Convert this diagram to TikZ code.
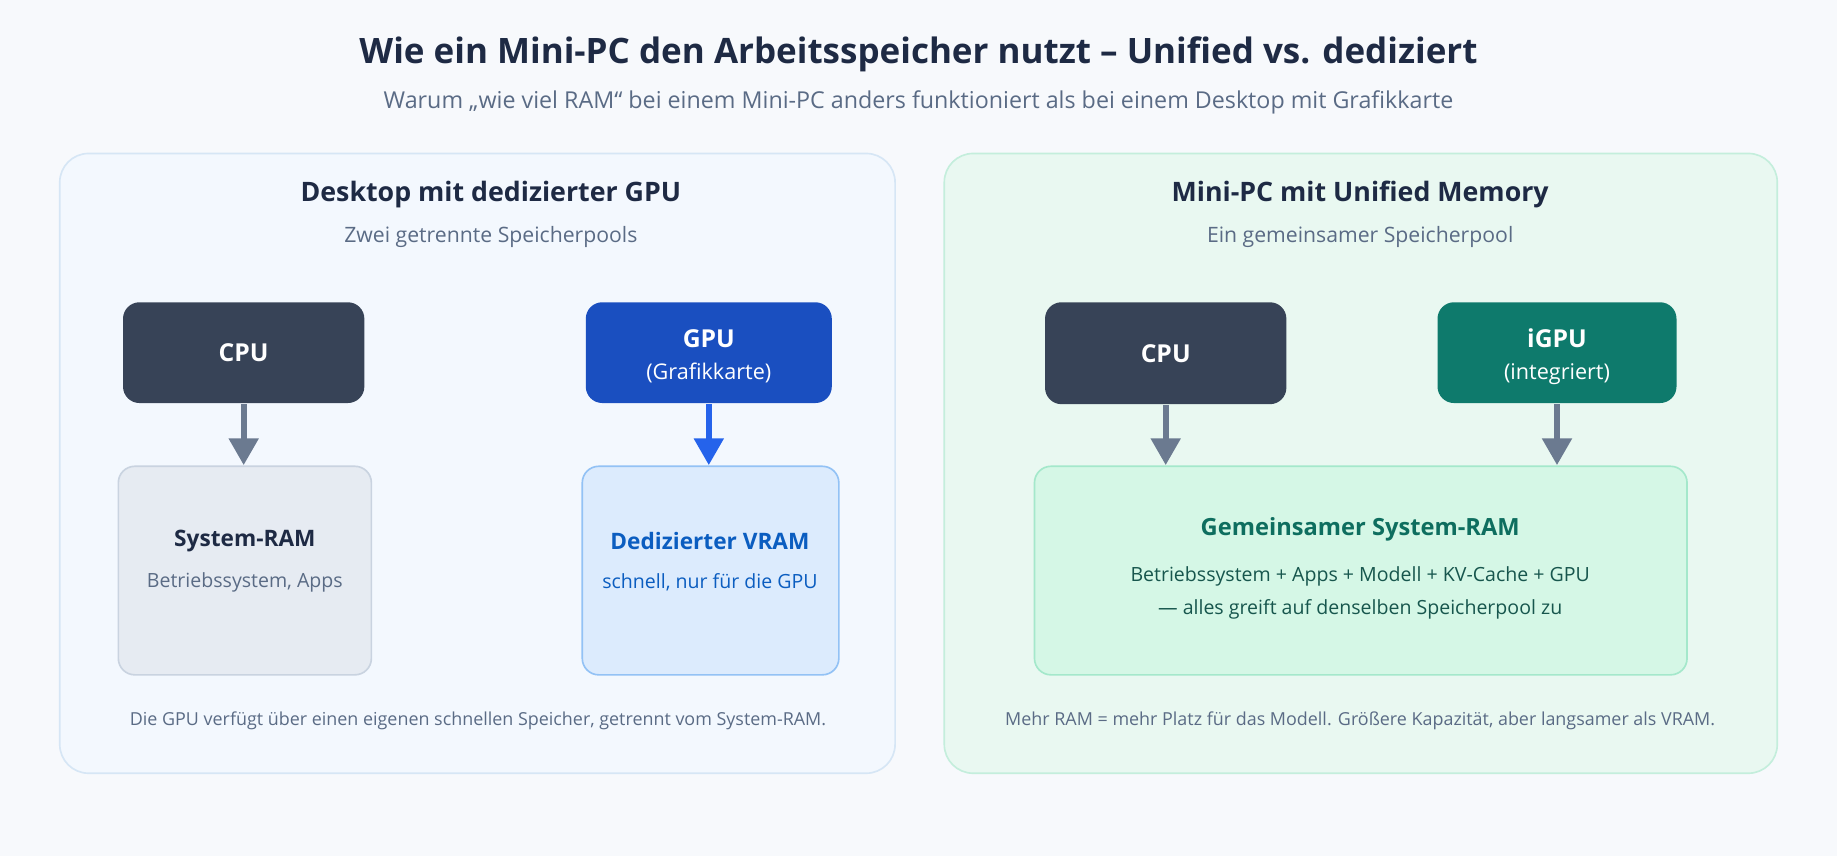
\documentclass[tikz,border=0pt]{standalone}
\usepackage{fontspec}
\setmainfont{Open Sans}
\usetikzlibrary{arrows.meta}

\definecolor{bgcol}{HTML}{F7F9FC}
\definecolor{titlecol}{HTML}{1E2A44}
\definecolor{subcol}{HTML}{5A6B85}
\definecolor{leftfill}{HTML}{F3F8FE}
\definecolor{leftline}{HTML}{D6E6F5}
\definecolor{rightfill}{HTML}{E9F8F1}
\definecolor{rightline}{HTML}{C4EEDC}
\definecolor{cpucol}{HTML}{374357}
\definecolor{gpucol}{HTML}{1A4FC0}
\definecolor{igpucol}{HTML}{0E7A6C}
\definecolor{arrgray}{HTML}{6B7A90}
\definecolor{arrblue}{HTML}{2563EB}
\definecolor{ramfill}{HTML}{E6EBF2}
\definecolor{ramline}{HTML}{C9D3E0}
\definecolor{vramfill}{HTML}{DCEBFD}
\definecolor{vramline}{HTML}{93C2F5}
\definecolor{vramtext}{HTML}{0B5DC0}
\definecolor{sharefill}{HTML}{D5F7E6}
\definecolor{shareline}{HTML}{A4E8CB}
\definecolor{sharetext}{HTML}{0E6E5F}
\definecolor{sharebody}{HTML}{17564D}

\tikzset{
  panel/.style={rounded corners=14, line width=0.8pt},
  chip/.style={rounded corners=8},
  mem/.style={rounded corners=8, line width=0.8pt},
  flow/.style={line width=2.8pt, -{Triangle[width=14pt,length=13pt]}},
  head/.style={font=\fontsize{13}{15}\selectfont\bfseries, text=titlecol},
  subhead/.style={font=\fontsize{10.3}{12}\selectfont, text=subcol},
  note/.style={font=\fontsize{8.7}{10}\selectfont, text=subcol}
}

\begin{document}
\begin{tikzpicture}[x=0.02cm, y=-0.02cm]
    \useasboundingbox (0,0) rectangle (1568,731);
    \fill[bgcol] (0,0) rectangle (1568,731);

    % Title
    \node[font=\fontsize{17}{20}\selectfont\bfseries, text=titlecol] (title) at (784,46) {Wie ein Mini-PC den Arbeitsspeicher nutzt – Unified vs. dediziert};
    \node[font=\fontsize{11.3}{14}\selectfont, text=subcol] (subtitle) at (784,87) {Warum „wie viel RAM“ bei einem Mini-PC anders funktioniert als bei einem Desktop mit Grafikkarte};

    % Left panel
    \draw[panel, fill=leftfill, draw=leftline] (51,131) rectangle (764,660);
    \node[head] (lhead) at (419,166) {Desktop mit dedizierter GPU};
    \node[subhead] (lsub) at (419,202) {Zwei getrennte Speicherpools};
    \fill[chip, cpucol] (105,258) rectangle (311,344);
    \node[text=white, font=\fontsize{12}{14}\selectfont\bfseries] (lcpu) at (208,301) {CPU};
    \fill[chip, gpucol] (500,258) rectangle (710,344);
    \node[text=white, font=\fontsize{12}{14}\selectfont\bfseries] (lgpu) at (605,289) {GPU};
    \node[text=white, font=\fontsize{10.5}{13}\selectfont] (lgpusub) at (605,318) {(Grafikkarte)};
    \draw[mem, fill=ramfill, draw=ramline] (101,398) rectangle (317,576);
    \node[font=\fontsize{11}{13}\selectfont\bfseries, text=titlecol] (sysram) at (209,462) {System-RAM};
    \node[font=\fontsize{9.5}{12}\selectfont, text=subcol] (sysramsub) at (209,497) {Betriebssystem, Apps};
    \draw[mem, fill=vramfill, draw=vramline] (497,398) rectangle (716,576);
    \node[font=\fontsize{11}{13}\selectfont\bfseries, text=vramtext] (vram) at (606,462) {Dedizierter VRAM};
    \node[font=\fontsize{9.5}{12}\selectfont, text=vramtext] (vramsub) at (606,497) {schnell, nur für die GPU};
    \coordinate (lcpuout) at (208,345);
    \coordinate (lramin) at (208,397);
    \coordinate (lgpuout) at (605,345);
    \coordinate (lvramin) at (605,397);
    \draw[flow, arrgray] (lcpuout) -- (lramin);
    \draw[flow, arrblue] (lgpuout) -- (lvramin);
    \node[note] (lnote) at (408,615) {Die GPU verfügt über einen eigenen schnellen Speicher, getrennt vom System-RAM.};

    % Right panel
    \draw[panel, fill=rightfill, draw=rightline] (806,131) rectangle (1517,660);
    \node[head] (rhead) at (1161,166) {Mini-PC mit Unified Memory};
    \node[subhead] (rsub) at (1161,202) {Ein gemeinsamer Speicherpool};
    \fill[chip, cpucol] (892,258) rectangle (1098,345);
    \node[text=white, font=\fontsize{12}{14}\selectfont\bfseries] (rcpu) at (995,302) {CPU};
    \fill[chip, igpucol] (1227,258) rectangle (1431,344);
    \node[text=white, font=\fontsize{12}{14}\selectfont\bfseries] (rgpu) at (1329,289) {iGPU};
    \node[text=white, font=\fontsize{10.5}{13}\selectfont] (rgpusub) at (1329,319) {(integriert)};
    \draw[mem, fill=sharefill, draw=shareline] (883,398) rectangle (1440,576);
    \node[font=\fontsize{11.5}{14}\selectfont\bfseries, text=sharetext] (share) at (1161,452) {Gemeinsamer System-RAM};
    \node[font=\fontsize{9.5}{12}\selectfont, text=sharebody] (share1) at (1161,492) {Betriebssystem + Apps + Modell + KV-Cache + GPU};
    \node[font=\fontsize{9.5}{12}\selectfont, text=sharebody] (share2) at (1161,520) {— alles greift auf denselben Speicherpool zu};
    \coordinate (rcpuout) at (995,346);
    \coordinate (rcpuin) at (995,397);
    \coordinate (rgpuout) at (1329,345);
    \coordinate (rgpuin) at (1329,397);
    \draw[flow, arrgray] (rcpuout) -- (rcpuin);
    \draw[flow, arrgray] (rgpuout) -- (rgpuin);
    \node[note] (rnote) at (1161,615) {Mehr RAM = mehr Platz für das Modell. Größere Kapazität, aber langsamer als VRAM.};
\end{tikzpicture}
\end{document}
